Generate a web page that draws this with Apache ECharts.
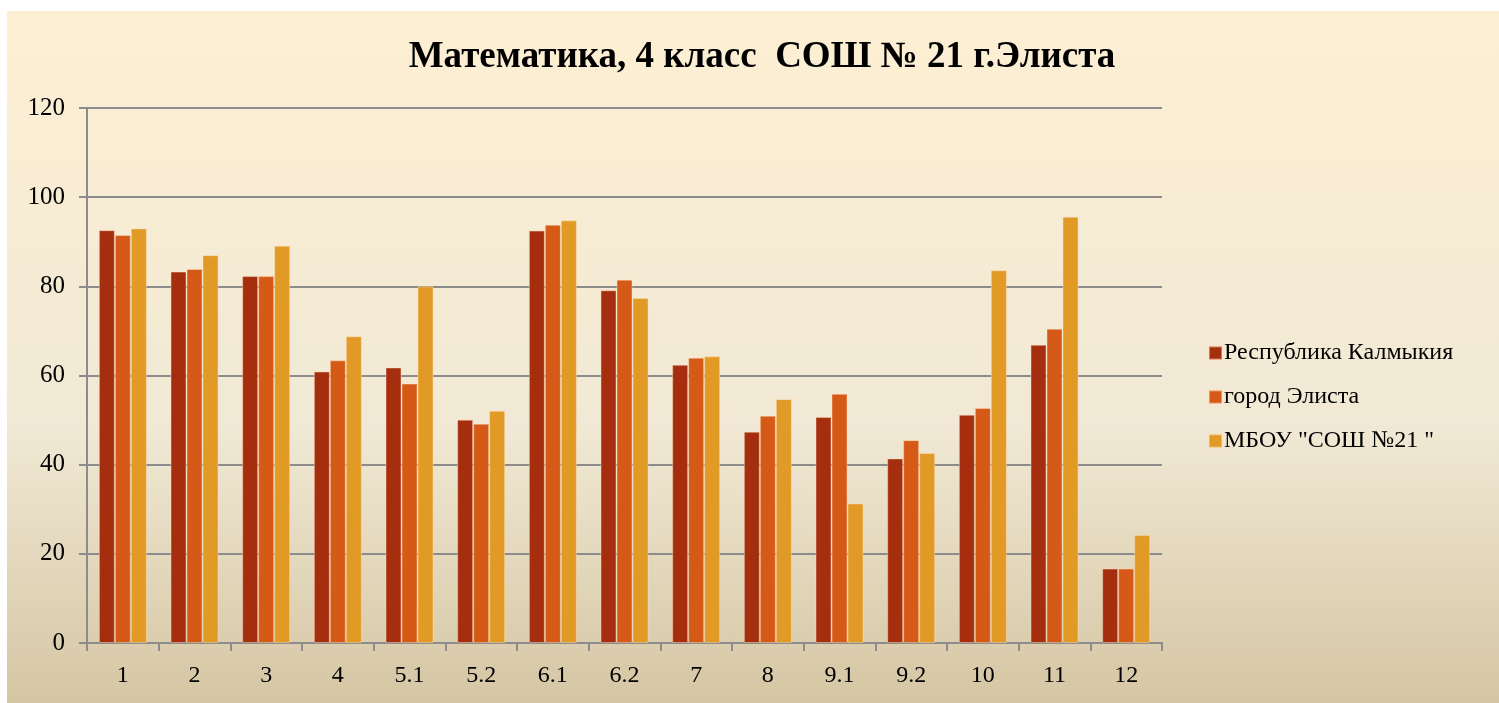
<!DOCTYPE html>
<html>
<head>
<meta charset="utf-8">
<script src="https://cdn.jsdelivr.net/npm/echarts@6/dist/echarts.min.js"></script>
<style>
html, body { margin: 0; padding: 0; background: #ffffff; }
#chart { width: 1499px; height: 703px; }
</style>
</head>
<body>
<div id="chart"></div>
<script>
// данные диаграммы
const categories = ['1', '2', '3', '4', '5.1', '5.2', '6.1', '6.2', '7', '8', '9.1', '9.2', '10', '11', '12'];
const seriesNames = ['Республика Калмыкия', 'город Элиста', 'МБОУ "СОШ №21 "'];
const kalmykia = [92.6, 83.3, 82.3, 60.9, 61.8, 50.1, 92.5, 79.1, 62.4, 47.4, 50.7, 41.4, 51.2, 66.9, 16.7];
const elista = [91.5, 83.9, 82.3, 63.4, 58.2, 49.2, 93.8, 81.5, 64.0, 51.0, 55.9, 45.5, 52.7, 70.5, 16.7];
const school = [93.0, 87.0, 89.1, 68.8, 80.0, 52.1, 94.8, 77.4, 64.3, 54.7, 31.3, 42.6, 83.6, 95.6, 24.2];
const yTicks = [0, 20, 40, 60, 80, 100, 120];

document.addEventListener('DOMContentLoaded', function() {
    const myChart = echarts.init(document.getElementById('chart'));
    const colors = ['#a52e0f', '#d65a17', '#e29a27'];
    const font = '"Liberation Serif", "Times New Roman", serif';
    const values = [kalmykia, elista, school];

    const option = {
        animation: false,
        textStyle: { fontFamily: font },
        graphic: [{
            type: 'rect',
            z: -10,
            shape: { x: 7, y: 11, width: 1492, height: 692 },
            style: {
                fill: new echarts.graphic.LinearGradient(0, 0, 0, 1, [
                    { offset: 0, color: '#fdefd3' },
                    { offset: 0.6, color: '#f1e9d5' },
                    { offset: 1, color: '#d5c6a3' }
                ])
            }
        }],
        title: {
            text: 'Математика, 4 класс  СОШ № 21 г.Элиста',
            left: 757,
            textAlign: 'center',
            top: 34,
            textStyle: { fontFamily: font, fontSize: 37, fontWeight: 'bold', color: '#000' }
        },
        legend: {
            orient: 'vertical',
            left: 1203,
            top: 336,
            itemWidth: 13,
            itemHeight: 13,
            itemGap: 20,
            icon: 'rect',
            data: seriesNames,
            textStyle: { fontFamily: font, fontSize: 24, color: '#000', padding: [0, 0, 0, -3] }
        },
        grid: {
            left: 87,
            right: 337,
            top: 108,
            bottom: 60,
            containLabel: false
        },
        xAxis: {
            type: 'category',
            data: categories,
            axisLine: { lineStyle: { color: '#8c8c8c', width: 2 } },
            axisTick: { show: true, length: 8, lineStyle: { color: '#8c8c8c', width: 2 } },
            axisLabel: { color: '#000', fontSize: 24, fontFamily: font, margin: 21 }
        },
        yAxis: {
            type: 'value',
            min: 0,
            max: 120,
            interval: 20,
            axisLine: { show: true, lineStyle: { color: '#8c8c8c', width: 2 } },
            axisTick: { show: true, length: 8, lineStyle: { color: '#8c8c8c', width: 2 } },
            axisLabel: {
                color: '#000', fontSize: 25, fontFamily: font, margin: 22,
                formatter: function(v) { return yTicks.indexOf(v) >= 0 ? String(v) : ''; }
            },
            splitLine: { lineStyle: { color: '#8c8c8c', width: 2 } }
        },
        series: seriesNames.map(function(name, i) {
            return {
                name: name,
                type: 'bar',
                data: values[i],
                barWidth: 16,
                barGap: '0%',
                itemStyle: {
                    color: colors[i],
                    borderColor: 'rgba(255, 225, 190, 0.45)',
                    borderWidth: 1
                }
            };
        })
    };
    myChart.setOption(option);
});
</script>
</body>
</html>
